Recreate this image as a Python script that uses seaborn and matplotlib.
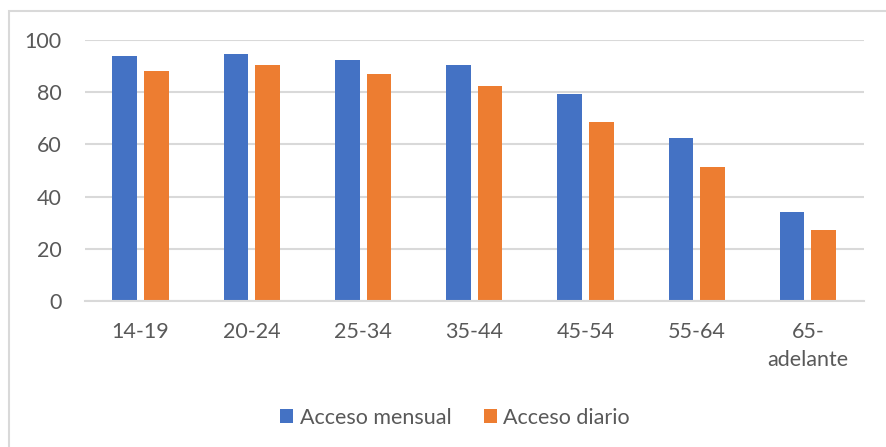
import matplotlib
matplotlib.use("Agg")
import matplotlib.pyplot as plt
from matplotlib.patches import Rectangle, Patch
import seaborn as sns
import pandas as pd

categories = ["14-19", "20-24", "25-34", "35-44", "45-54", "55-64", "65-\nadelante"]
acceso_mensual = [94.1, 94.6, 92.3, 90.5, 79.5, 62.4, 33.9]
acceso_diario = [88.1, 90.5, 86.9, 82.3, 68.5, 51.3, 27.1]
series_names = ["Acceso mensual", "Acceso diario"]
colors = ["#4472C4", "#ED7D31"]
yticks = [0, 20, 40, 60, 80, 100]

df = pd.DataFrame({
    "cat": categories * 2,
    "val": acceso_mensual + acceso_diario,
    "serie": [series_names[0]] * len(categories) + [series_names[1]] * len(categories),
})

sns.set_theme(style="white")
plt.rcParams["font.family"] = ["Lato", "DejaVu Sans"]
txt = "#595959"
grid = "#D9D9D9"
fs = 15.5

fig = plt.figure(figsize=(8.86, 4.47), dpi=100)
fig.patch.set_facecolor("white")
# outer chart border (left and top visible; right/bottom cropped)
fig.add_artist(Rectangle((9 / 886, -0.05), 1.2, (447 - 11) / 447 + 0.05,
                         transform=fig.transFigure, fill=False,
                         edgecolor=grid, linewidth=1.5))

ax = fig.add_axes([85 / 886, 146.3 / 447, (863.5 - 85) / 886, (406.7 - 146.3) / 447])
sns.barplot(data=df, x="cat", y="val", hue="serie", palette=colors,
            width=0.569, gap=0.22, ax=ax, legend=False,
            edgecolor="none", linewidth=0, saturation=1)

ax.set_ylim(0, 100)
ax.set_xlim(-0.5, len(categories) - 0.5)
ax.set_yticks(yticks)
ax.set_yticklabels([str(v) for v in yticks])
ax.set_xlabel("")
ax.set_ylabel("")
ax.grid(axis="y", color=grid, linewidth=1.5)
ax.grid(axis="x", visible=False)
ax.set_axisbelow(True)
for s in ["top", "right", "left"]:
    ax.spines[s].set_visible(False)
ax.spines["bottom"].set_color(grid)
ax.spines["bottom"].set_linewidth(1.5)
ax.tick_params(axis="both", length=0, labelsize=fs, colors=txt)
ax.tick_params(axis="y", pad=17)
ax.tick_params(axis="x", pad=15.5)
for lbl in ax.get_xticklabels():
    lbl.set_linespacing(1.5)
    lbl.set_verticalalignment("top")

handles = [Patch(facecolor=c, edgecolor="none") for c in colors]
fig.legend(handles, series_names, loc="center", bbox_to_anchor=(455 / 886, 1 - 418 / 447),
           ncol=2, frameon=False, fontsize=fs, labelcolor=txt,
           handlelength=0.62, handleheight=0.62, handletextpad=0.3, columnspacing=1.5)

fig.savefig("out.png", dpi=100, facecolor="white")
